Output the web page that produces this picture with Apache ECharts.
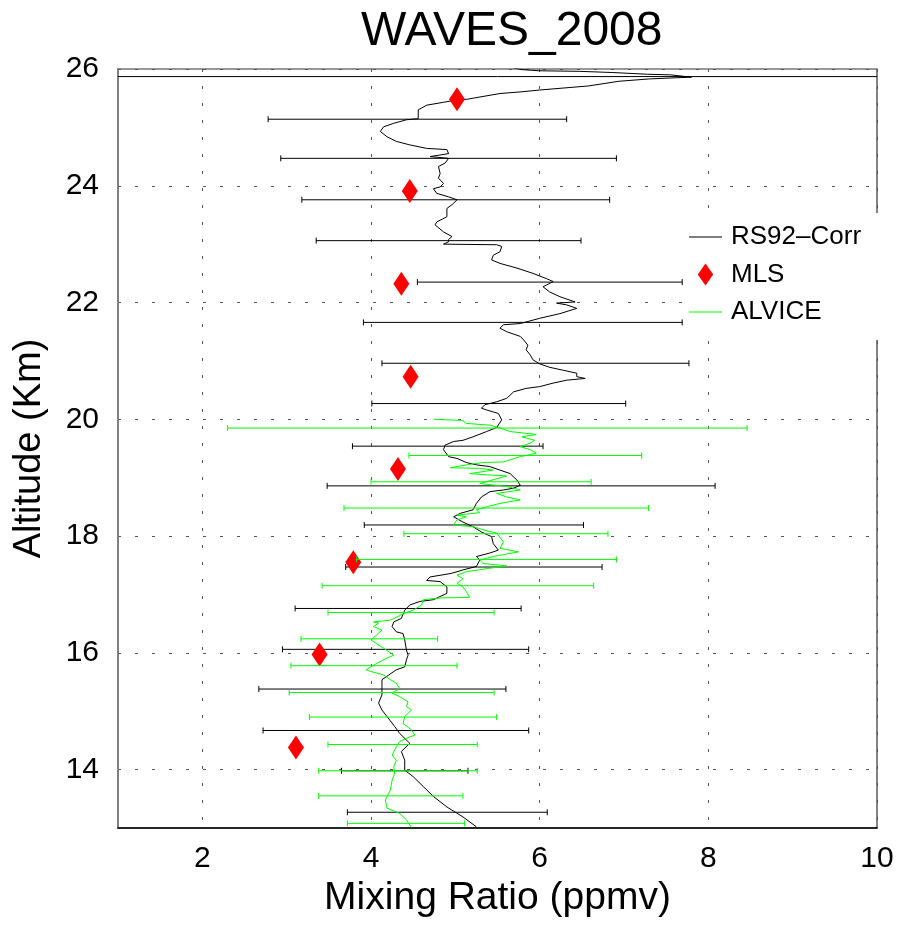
<!DOCTYPE html>
<html>
<head>
<meta charset="utf-8">
<title>WAVES_2008</title>
<script src="https://cdn.jsdelivr.net/npm/echarts@6/dist/echarts.min.js"></script>
<style>
  html, body { margin: 0; padding: 0; background: #fff; }
  #chart { width: 898px; height: 926px; }
</style>
</head>
<body>
<div id="chart"></div>
<script>
// Water vapour mixing ratio profiles, WAVES 2008 campaign.
// Profiles are [mixing ratio (ppmv), altitude (km)] pairs, bottom to top.

const xTicks = [2, 4, 6, 8, 10];
const yTicks = [14, 16, 18, 20, 22, 24, 26];

// RS92 corrected radiosonde profile
const rs92Profile = [
  [5.25, 13.02], [5.09, 13.19], [4.90, 13.36], [4.74, 13.54], [4.62, 13.71], [4.50, 13.88],
  [4.40, 13.99], [4.40, 14.16], [4.36, 14.31], [4.46, 14.45], [4.34, 14.62], [4.28, 14.74],
  [4.19, 14.91], [4.13, 15.02], [4.09, 15.14], [4.13, 15.28], [4.13, 15.42], [4.13, 15.54],
  [4.21, 15.62], [4.30, 15.71], [4.40, 15.76], [4.42, 15.88], [4.44, 15.96], [4.42, 16.05],
  [4.40, 16.22], [4.38, 16.33], [4.30, 16.36], [4.25, 16.45], [4.27, 16.53], [4.36, 16.59],
  [4.40, 16.73], [4.46, 16.82], [4.58, 16.88], [4.74, 16.91], [4.90, 17.02], [4.90, 17.13],
  [4.82, 17.22], [4.66, 17.24], [4.70, 17.30], [4.95, 17.36], [5.09, 17.42], [5.25, 17.48],
  [5.29, 17.59], [5.25, 17.65], [5.41, 17.71], [5.51, 17.76], [5.45, 17.87], [5.43, 17.99],
  [5.31, 18.07], [5.21, 18.16], [5.09, 18.24], [4.98, 18.33], [5.06, 18.39], [5.21, 18.45],
  [5.25, 18.56], [5.31, 18.67], [5.41, 18.76], [5.57, 18.79], [5.69, 18.82], [5.77, 18.87],
  [5.73, 18.96], [5.65, 19.07], [5.53, 19.13], [5.41, 19.19], [5.25, 19.22], [5.13, 19.26],
  [5.02, 19.33], [4.92, 19.36], [4.86, 19.48], [4.88, 19.56], [4.98, 19.62], [5.09, 19.64],
  [5.21, 19.70], [5.37, 19.79], [5.49, 19.86], [5.55, 19.99], [5.51, 20.10], [5.37, 20.16],
  [5.31, 20.19], [5.35, 20.25], [5.49, 20.30], [5.61, 20.36], [5.69, 20.47], [5.84, 20.53],
  [6.00, 20.56], [6.16, 20.62], [6.32, 20.67], [6.54, 20.70], [6.44, 20.73], [6.44, 20.79],
  [6.28, 20.84], [6.12, 20.89], [6.00, 20.95], [5.92, 21.02], [5.89, 21.10], [5.84, 21.19],
  [5.86, 21.27], [5.81, 21.36], [5.77, 21.42], [5.61, 21.50], [5.53, 21.56], [5.57, 21.62],
  [5.77, 21.64], [6.00, 21.73], [6.24, 21.81], [6.44, 21.90], [6.32, 21.96], [6.20, 21.99],
  [6.42, 22.01], [6.24, 22.10], [6.12, 22.18], [6.04, 22.27], [6.16, 22.36], [6.08, 22.41],
  [5.92, 22.50], [5.73, 22.59], [5.53, 22.67], [5.43, 22.73], [5.45, 22.81], [5.53, 22.87],
  [5.55, 22.96], [5.49, 22.99], [4.86, 23.00], [4.92, 23.04], [4.92, 23.08], [4.96, 23.13],
  [4.86, 23.21], [4.76, 23.33], [4.78, 23.38], [4.90, 23.47], [4.90, 23.61], [4.98, 23.70],
  [5.02, 23.76], [4.92, 23.81], [4.78, 23.87], [4.74, 23.95], [4.82, 23.98], [4.86, 24.04],
  [4.80, 24.13], [4.82, 24.21], [4.80, 24.33], [4.88, 24.39], [4.92, 24.47], [4.70, 24.50],
  [4.68, 24.53], [4.92, 24.55], [4.90, 24.62], [4.66, 24.64], [4.46, 24.70], [4.30, 24.76],
  [4.19, 24.84], [4.11, 24.93], [4.15, 25.01], [4.27, 25.07], [4.42, 25.13], [4.56, 25.15],
  [4.56, 25.30], [4.66, 25.38], [4.86, 25.43], [5.02, 25.47], [5.13, 25.48], [5.53, 25.58],
  [5.79, 25.61], [6.00, 25.64], [6.58, 25.71], [6.94, 25.79], [7.30, 25.83], [7.62, 25.85],
  [7.80, 25.86], [7.55, 25.90], [7.28, 25.91], [6.86, 25.94], [6.47, 25.96], [5.99, 25.97],
  [5.78, 25.99], [5.60, 26.05]
];
// flat segment of the RS92 record near the top of the sounding
const rs92TopSegment = [[1, 25.87], [10, 25.87]];

// RS92 uncertainty bars: altitude, low and high mixing ratio
const rs92BarAlt = [25.14, 24.47, 23.76, 23.06, 22.35, 21.66, 20.96, 20.27, 19.54,
                    18.86, 18.19, 17.47, 16.76, 16.06, 15.38, 14.67, 13.98, 13.27];
const rs92BarLo  = [2.78, 2.93, 3.18, 3.35, 4.55, 3.91, 4.13, 4.01, 3.78,
                    3.48, 3.92, 3.70, 3.10, 2.95, 2.67, 2.72, 3.65, 3.72];
const rs92BarHi  = [6.32, 6.91, 6.83, 6.49, 7.69, 7.69, 7.77, 7.02, 6.04,
                    8.08, 6.52, 6.74, 5.78, 5.87, 5.60, 5.87, 5.15, 6.09];

// MLS retrievals
const mlsPoints = [
  [5.02, 25.48], [4.46, 23.91], [4.36, 22.32], [4.47, 20.73],
  [4.32, 19.15], [3.79, 17.55], [3.39, 15.97], [3.11, 14.38]
];

// ALVICE lidar profile
const alviceProfile = [
  [4.48, 13.01], [4.42, 13.14], [4.34, 13.25], [4.19, 13.34], [4.17, 13.48], [4.23, 13.65],
  [4.25, 13.82], [4.28, 13.94], [4.27, 14.05], [4.30, 14.16], [4.25, 14.25], [4.30, 14.39],
  [4.34, 14.48], [4.46, 14.56], [4.52, 14.59], [4.48, 14.68], [4.38, 14.79], [4.40, 14.91],
  [4.48, 15.02], [4.42, 15.08], [4.44, 15.16], [4.34, 15.25], [4.25, 15.31], [4.34, 15.39],
  [4.30, 15.48], [4.23, 15.54], [4.15, 15.62], [4.00, 15.68], [3.94, 15.71], [4.07, 15.82],
  [4.19, 15.91], [4.27, 15.96], [4.15, 16.08], [4.00, 16.22], [4.07, 16.31], [4.13, 16.39],
  [4.03, 16.45], [4.09, 16.51], [4.03, 16.53], [4.23, 16.56], [4.40, 16.68], [4.50, 16.73],
  [4.60, 16.82], [4.62, 16.91], [4.82, 16.94], [5.17, 16.95], [5.13, 17.05], [5.09, 17.13],
  [5.02, 17.19], [5.09, 17.27], [5.02, 17.33], [5.13, 17.39], [5.41, 17.45], [5.61, 17.49],
  [5.33, 17.53], [5.29, 17.59], [5.45, 17.65], [5.75, 17.73], [5.53, 17.79], [5.57, 17.90],
  [5.49, 18.05], [5.35, 18.10], [5.21, 18.16], [4.98, 18.19], [5.02, 18.28], [5.13, 18.33],
  [5.02, 18.36], [5.29, 18.40], [5.25, 18.45], [5.37, 18.50], [5.53, 18.56], [5.77, 18.62],
  [5.61, 18.67], [5.49, 18.73], [5.77, 18.79], [5.61, 18.85], [5.29, 18.90], [5.61, 19.03],
  [5.37, 19.05], [5.17, 19.07], [5.45, 19.13], [5.29, 19.16], [4.94, 19.17], [5.13, 19.22],
  [5.33, 19.26], [5.57, 19.27], [5.77, 19.36], [5.96, 19.42], [5.89, 19.48], [5.77, 19.53],
  [5.90, 19.60], [5.94, 19.64], [5.79, 19.70], [5.96, 19.74], [5.65, 19.79], [5.53, 19.85],
  [5.41, 19.90], [5.13, 19.93], [5.09, 19.98], [4.74, 20.00]
];

// ALVICE uncertainty bars
const alviceBarAlt = [19.85, 19.38, 18.93, 18.48, 18.04, 17.60, 17.15, 16.69,
                      16.24, 15.78, 15.32, 14.90, 14.43, 13.98, 13.55, 13.08];
const alviceBarLo  = [2.30, 4.45, 4.00, 3.68, 4.39, 3.83, 3.42, 3.49,
                      3.17, 3.05, 3.03, 3.27, 3.49, 3.38, 3.38, 3.72];
const alviceBarHi  = [8.46, 7.21, 6.61, 7.29, 6.81, 6.91, 6.64, 5.46,
                      4.79, 5.02, 5.46, 5.49, 5.26, 5.26, 5.09, 5.11];

const FONT = 'Liberation Sans, Arial, Helvetica, sans-serif';

function zipBars(alt, lo, hi) {
  return alt.map((a, i) => [a, lo[i], hi[i]]);
}

// horizontal error bars with short end caps
function errorBars(name, rows, color) {
  return {
    type: 'custom',
    name: name,
    data: rows,
    encode: { x: [1, 2], y: 0 },
    clip: true,
    silent: true,
    renderItem: function (params, api) {
      const alt = api.value(0);
      const a = api.coord([api.value(1), alt]);
      const b = api.coord([api.value(2), alt]);
      const h = 3;
      const style = { stroke: color, lineWidth: 1 };
      return {
        type: 'group',
        children: [
          { type: 'line', shape: { x1: a[0], y1: a[1], x2: b[0], y2: b[1] }, style: style },
          { type: 'line', shape: { x1: a[0], y1: a[1] - h, x2: a[0], y2: a[1] + h }, style: style },
          { type: 'line', shape: { x1: b[0], y1: b[1] - h, x2: b[0], y2: b[1] + h }, style: style }
        ]
      };
    }
  };
}

const gridLine = { show: true, lineStyle: { color: '#555', width: 1, type: [3, 14] } };

const chart = echarts.init(document.getElementById('chart'), null, { renderer: 'canvas' });

chart.setOption({
  animation: false,
  backgroundColor: '#fff',
  title: {
    text: 'WAVES_2008',
    left: 361,
    top: 8,
    padding: 0,
    textStyle: { fontFamily: FONT, fontSize: 48, fontWeight: 'normal', color: '#000' }
  },
  legend: {
    orient: 'vertical',
    left: 685,
    top: 213,
    padding: [11, 20, 15, 4],
    backgroundColor: '#fff',
    itemWidth: 33,
    itemHeight: 22,
    itemGap: 11.5,
    z: 20,
    symbolKeepAspect: true,
    itemStyle: { borderWidth: 0 },
    textStyle: { fontFamily: FONT, fontSize: 26, color: '#000', padding: [0, 0, 0, 4] },
    data: [
      { name: 'RS92–Corr', icon: 'path://M0,0 H30 V1 H0 Z', itemStyle: { color: '#000' } },
      { name: 'MLS', icon: 'path://M7,0 L14,10 L7,20 L0,10 Z', itemStyle: { color: '#ff0000', opacity: 1 } },
      { name: 'ALVICE', icon: 'path://M0,0 H30 V1 H0 Z', itemStyle: { color: '#00ff00' } }
    ]
  },
  grid: {
    left: 118, right: 21, top: 69, bottom: 98,
    show: true, borderColor: '#333', borderWidth: 1.2, backgroundColor: '#fff'
  },
  xAxis: {
    type: 'value',
    min: 1, max: 10,
    name: 'Mixing Ratio (ppmv)',
    nameLocation: 'middle',
    nameGap: 30,
    nameTextStyle: { fontFamily: FONT, fontSize: 39, color: '#000' },
    axisLine: { show: true, lineStyle: { color: '#000', width: 1.5 } },
    axisTick: { show: false, customValues: xTicks },
    axisLabel: { customValues: xTicks, fontFamily: FONT, fontSize: 30, color: '#000', margin: 16 },
    splitLine: gridLine
  },
  yAxis: {
    type: 'value',
    min: 13, max: 26,
    name: 'Altitude (Km)',
    nameLocation: 'middle',
    nameGap: 69,
    nameTextStyle: { fontFamily: FONT, fontSize: 38, color: '#000' },
    axisLine: { show: true, lineStyle: { color: '#808080', width: 2 } },
    axisTick: { show: false, customValues: yTicks },
    axisLabel: { customValues: yTicks, fontFamily: FONT, fontSize: 30, color: '#000', margin: 19 },
    splitLine: gridLine
  },
  series: [
    {
      type: 'line', name: 'RS92–Corr', data: rs92Profile,
      color: '#000', symbol: 'none', lineStyle: { color: '#000', width: 1 }, z: 2
    },
    {
      type: 'line', name: 'RS92–Corr', data: rs92TopSegment,
      color: '#000', symbol: 'none', lineStyle: { color: '#000', width: 1 }, z: 2
    },
    Object.assign(errorBars('RS92–Corr', zipBars(rs92BarAlt, rs92BarLo, rs92BarHi), '#000'), { z: 3 }),
    {
      type: 'scatter', name: 'MLS', data: mlsPoints,
      symbol: 'diamond', symbolSize: [16, 24],
      itemStyle: { color: '#ff0000', opacity: 1 }, z: 4
    },
    {
      type: 'line', name: 'ALVICE', data: alviceProfile,
      color: '#00ff00', symbol: 'none', lineStyle: { color: '#00ff00', width: 1 }, z: 5
    },
    Object.assign(errorBars('ALVICE', zipBars(alviceBarAlt, alviceBarLo, alviceBarHi), '#00ff00'), { z: 6 })
  ]
});
</script>
</body>
</html>
